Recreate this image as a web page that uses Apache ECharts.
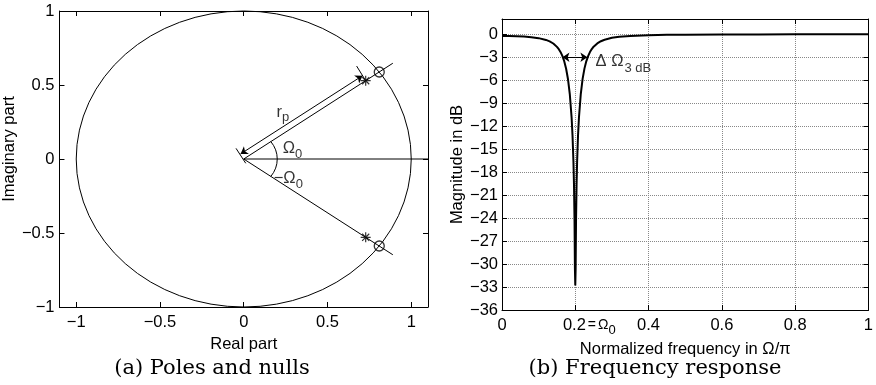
<!DOCTYPE html>
<html>
<head>
<meta charset="utf-8">
<script src="https://cdn.jsdelivr.net/npm/echarts@6/dist/echarts.min.js"></script>
<style>
  html, body { margin: 0; padding: 0; background: #fff; }
  #chart { width: 876px; height: 385px; }
</style>
</head>
<body>
<div id="chart"></div>
<script>
// ---- (a) pole / zero plot data ----
const realTicks = [-1, -0.5, 0, 0.5, 1]
const imagTicks = [-1, -0.5, 0, 0.5, 1]
const unitCircle = [[0, 0, 1]]            // centre x, centre y, radius
const zeroPts = [[0.809, 0.588], [0.809, -0.588]]
const polePts = [[0.728, 0.529], [0.728, -0.529]]
const radialLine = [[0.89, 0.647], [0, 0], [0.89, -0.647]]
const realLine = [[0, 0], [1.1, 0]]
const angleArc = [[0.2, 36]]              // arc radius, angle in degrees
const rpArrow = [[-0.019, 0.034], [0.709, 0.563]]
const rpTickOrigin = [[-0.046, 0.072], [0.012, -0.029]]
const rpTickPole = [[0.674, 0.628], [0.728, 0.529]]

// ---- (b) frequency response data ----
const freqTicks = [0, 0.2, 0.4, 0.6, 0.8, 1]
const magTicks = [0, -3, -6, -9, -12, -15, -18, -21, -24, -27, -30, -33, -36]
const freqX = [0, 0.02, 0.04, 0.06, 0.08, 0.10, 0.12, 0.13, 0.14, 0.15,
  0.155, 0.16, 0.165, 0.17, 0.175, 0.18, 0.185, 0.19, 0.1925, 0.195,
  0.1965, 0.198, 0.199, 0.2, 0.201, 0.202, 0.2035, 0.205, 0.2075, 0.21,
  0.215, 0.22, 0.225, 0.23, 0.235, 0.24, 0.245, 0.25, 0.26, 0.27,
  0.28, 0.30, 0.32, 0.35, 0.40, 0.45, 0.50, 0.60, 0.70, 0.80,
  0.90, 1.00]
const magDb = [-0.22, -0.23, -0.25, -0.30, -0.37, -0.50, -0.73, -0.92, -1.20, -1.64,
  -1.94, -2.33, -2.85, -3.54, -4.49, -5.83, -7.80, -10.90, -13.24, -16.64,
  -19.69, -24.52, -30.53, -32.8, -30.5, -24.5, -19.7, -16.6, -13.2, -10.9,
  -7.8, -5.82, -4.48, -3.53, -2.84, -2.32, -1.93, -1.62, -1.19, -0.90,
  -0.71, -0.46, -0.33, -0.21, -0.12, -0.07, -0.05, -0.02, -0.01, 0,
  0, 0]
const bwArrow = [[0.165, -3], [0.233, -3]]

const SANS = '"Liberation Sans", Arial, sans-serif'
const SERIF = '"DejaVu Serif", serif'

const isTick = (list, v) => list.some(t => Math.abs(t - v) < 1e-6)
const fmtNum = v => String(+v.toFixed(2)).replace('-', '\u2212')

const labelStyle = { color: '#000', fontFamily: SANS, fontSize: 16.5 }
const nameStyle = { color: '#000', fontFamily: SANS, fontSize: 16.5 }
const blackLine = { color: '#000', width: 1 }

// asterisk marker built from four thin bars
const starPath = 'path://M0,8.8L20,8.8L20,11.2L0,11.2Z' +
  'M8.8,0L11.2,0L11.2,20L8.8,20Z' +
  'M3.78,2.09L17.91,16.22L16.22,17.91L2.09,3.78Z' +
  'M17.91,3.78L3.78,17.91L2.09,16.22L16.22,2.09Z'

function frameAxis(grid, pos, min, max, extra) {
  return Object.assign({
    type: 'value', gridIndex: grid, position: pos, min: min, max: max,
    axisLine: { onZero: false, lineStyle: blackLine },
    axisTick: { inside: true, length: 5, lineStyle: blackLine },
    axisLabel: { show: false },
    splitLine: { show: false }
  }, extra || {})
}

const subRich = {
  m: { fontFamily: SANS, fontSize: 16.5, color: '#000', padding: [0, 0, 4, 0] },
  s: { fontFamily: SANS, fontSize: 13, color: '#000', padding: [7, 0, 0, 0] }
}

function textPoint(x, y, text) {
  return {
    value: [x, y],
    label: { show: true, position: 'inside', formatter: text, rich: subRich }
  }
}

const gridDots = { show: true, lineStyle: { type: 'dotted', color: '#888', width: 1 } }

const chart = echarts.init(document.getElementById('chart'))

chart.setOption({
  animation: false,
  backgroundColor: '#fff',
  grid: [
    { left: 51, right: 448, top: 11, bottom: 78 },
    { left: 502, right: 4, top: 19, bottom: 75 }
  ],
  xAxis: [
    frameAxis(0, 'bottom', -1.1, 1.1, {
      splitNumber: 5,
      axisLabel: {
        show: true, margin: 7, ...labelStyle,
        formatter: v => isTick(realTicks, v) ? fmtNum(v) : ''
      },
      name: 'Real part', nameLocation: 'middle', nameGap: 22, nameTextStyle: nameStyle
    }),
    frameAxis(0, 'top', -1.1, 1.1, { splitNumber: 5 }),
    frameAxis(1, 'bottom', 0, 1, {
      interval: 0.2,
      axisLabel: {
        show: true, margin: 7, ...labelStyle,
        formatter: v => {
          if (!isTick(freqTicks, v)) return ''
          if (Math.abs(v - 0.2) < 1e-6) return '{pad| }{m|0.2}{e|=}{o|\u03a9}{s|0}'
          return '{m|' + fmtNum(v) + '}'
        },
        rich: {
          pad: { width: 28, fontSize: 16.5, padding: [0, 0, 3, 0] },
          m: { fontFamily: SANS, fontSize: 16.5, color: '#000', padding: [0, 0, 3, 0] },
          e: { fontFamily: SANS, fontSize: 14, color: '#000', padding: [1, 1, 4, 2] },
          o: { fontFamily: SANS, fontSize: 14, color: '#000', padding: [1, 0, 4, 1] },
          s: { fontFamily: SANS, fontSize: 13, color: '#000', padding: [6, 0, 0, 0] }
        }
      },
      splitLine: gridDots,
      name: 'Normalized frequency in \u03a9/\u03c0', nameLocation: 'middle', nameGap: 20,
      nameTextStyle: nameStyle
    }),
    frameAxis(1, 'top', 0, 1, { interval: 0.2 })
  ],
  yAxis: [
    frameAxis(0, 'left', -1, 1, {
      interval: 0.5,
      axisLabel: {
        show: true, margin: 5, ...labelStyle,
        formatter: v => isTick(imagTicks, v) ? fmtNum(v) : ''
      },
      name: 'Imaginary part', nameLocation: 'middle', nameGap: 31,
      nameTextStyle: { ...nameStyle, padding: [0, 0, 0, 20] }
    }),
    frameAxis(0, 'right', -1, 1, { interval: 0.5 }),
    frameAxis(1, 'left', -36, 2, {
      interval: 3,
      axisLabel: {
        show: true, margin: 4, ...labelStyle,
        formatter: v => isTick(magTicks, v) ? fmtNum(v) : ''
      },
      splitLine: gridDots,
      name: 'Magnitude in dB', nameLocation: 'middle', nameGap: 36, nameTextStyle: nameStyle
    }),
    frameAxis(1, 'right', -36, 2, { interval: 3 })
  ],
  graphic: [
    { type: 'text', x: 212, y: 369, style: { text: '(a) Poles and nulls', fontFamily: SERIF, fontSize: 21, fill: '#000', align: 'center', verticalAlign: 'middle' } },
    { type: 'text', x: 655, y: 369, style: { text: '(b) Frequency response', fontFamily: SERIF, fontSize: 21, fill: '#000', align: 'center', verticalAlign: 'middle' } }
  ],
  series: [
    // ---------- (a) ----------
    {
      type: 'custom', xAxisIndex: 0, yAxisIndex: 0, silent: true, data: unitCircle,
      renderItem: (params, api) => {
        const c = api.coord([api.value(0), api.value(1)])
        const s = api.size([api.value(2), api.value(2)])
        const rx = s[0], ry = s[1]
        return {
          type: 'path',
          shape: { pathData: `M${c[0] - rx} ${c[1]}A${rx} ${ry} 0 1 0 ${c[0] + rx} ${c[1]}A${rx} ${ry} 0 1 0 ${c[0] - rx} ${c[1]}Z` },
          style: { fill: 'none', stroke: '#000', lineWidth: 1 }
        }
      }
    },
    {
      type: 'custom', xAxisIndex: 0, yAxisIndex: 0, silent: true, data: angleArc,
      renderItem: (params, api) => {
        const r = api.value(0)
        const a = api.value(1) * Math.PI / 180
        const p1 = api.coord([r * Math.cos(a), -r * Math.sin(a)])
        const p2 = api.coord([r * Math.cos(a), r * Math.sin(a)])
        const s = api.size([r, r])
        return {
          type: 'path',
          shape: { pathData: `M${p1[0]} ${p1[1]}A${s[0]} ${s[1]} 0 0 0 ${p2[0]} ${p2[1]}` },
          style: { fill: 'none', stroke: '#000', lineWidth: 1 }
        }
      }
    },
    { type: 'line', xAxisIndex: 0, yAxisIndex: 0, data: realLine, symbol: 'none', lineStyle: blackLine, silent: true },
    { type: 'line', xAxisIndex: 0, yAxisIndex: 0, data: radialLine, symbol: 'none', lineStyle: blackLine, silent: true },
    { type: 'line', xAxisIndex: 0, yAxisIndex: 0, data: rpTickOrigin, symbol: 'none', lineStyle: blackLine, silent: true },
    { type: 'line', xAxisIndex: 0, yAxisIndex: 0, data: rpTickPole, symbol: 'none', lineStyle: blackLine, silent: true },
    {
      type: 'lines', coordinateSystem: 'cartesian2d', xAxisIndex: 0, yAxisIndex: 0, silent: true,
      symbol: ['arrow', 'arrow'], symbolSize: 7,
      lineStyle: { color: '#000', width: 1, opacity: 1, curveness: 0 },
      data: [{ coords: rpArrow }]
    },
    {
      type: 'scatter', xAxisIndex: 0, yAxisIndex: 0, data: zeroPts, symbol: 'circle', symbolSize: 10,
      itemStyle: { color: 'rgba(0,0,0,0)', borderColor: '#000', borderWidth: 1.3 }, silent: true
    },
    {
      type: 'scatter', xAxisIndex: 0, yAxisIndex: 0, data: polePts, symbol: starPath, symbolSize: 10,
      itemStyle: { color: '#000' }, silent: true
    },
    {
      type: 'scatter', xAxisIndex: 0, yAxisIndex: 0, symbolSize: 1, silent: true,
      itemStyle: { color: 'rgba(0,0,0,0)' },
      data: [
        textPoint(0.233, 0.304, '{m|r}{s|p}'),
        textPoint(0.291, 0.055, '{m|\u03a9}{s|0}'),
        textPoint(0.266, -0.147, '{m|\u2212\u03a9}{s|0}')
      ]
    },
    // ---------- (b) ----------
    {
      type: 'line', xAxisIndex: 2, yAxisIndex: 2, symbol: 'none', silent: true,
      data: freqX.map((x, i) => [x, magDb[i]]),
      lineStyle: { color: '#000', width: 2 }
    },
    {
      type: 'lines', coordinateSystem: 'cartesian2d', xAxisIndex: 2, yAxisIndex: 2, silent: true,
      symbol: ['arrow', 'arrow'], symbolSize: 7,
      lineStyle: { color: '#000', width: 1.2, opacity: 1, curveness: 0 },
      data: [{ coords: bwArrow }]
    },
    {
      type: 'scatter', xAxisIndex: 2, yAxisIndex: 2, symbolSize: 1, silent: true,
      itemStyle: { color: 'rgba(0,0,0,0)' },
      data: [{
        value: [0.254, -3.92],
        label: {
          show: true, position: 'right', distance: 0,
          formatter: '{m|\u0394 \u03a9}{s|3 dB}',
          rich: {
            m: { fontFamily: SANS, fontSize: 16.5, color: '#000', padding: [0, 1, 6, 0] },
            s: { fontFamily: SANS, fontSize: 13, color: '#000', padding: [9, 0, 0, 0] }
          }
        }
      }]
    }
  ]
})
</script>
</body>
</html>
